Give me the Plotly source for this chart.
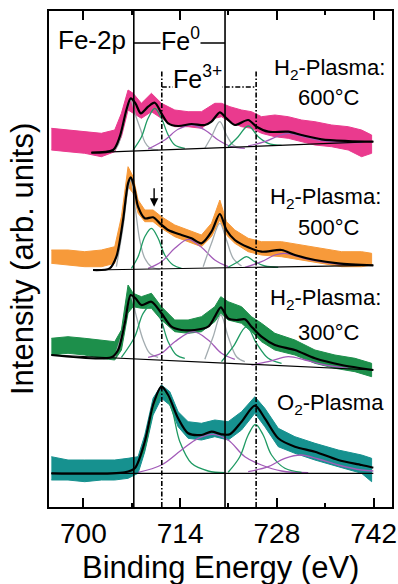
import plotly.graph_objects as go

# ---------------------------------------------------------------------------
# Fe-2p XPS spectra (binding energy in eV, intensity in arbitrary units).
# Each spectrum is stacked with its own vertical offset.
# ---------------------------------------------------------------------------

# --- H2 plasma, 600 °C ------------------------------------------------------
off_600 = 347
data_e_600 = [695.37, 697.78, 700.20, 702.61, 704.54, 705.51, 706.47, 707.20, 708.40, 709.85,
              711.30, 713.23, 715.16, 717.09, 719.02, 719.99, 721.20, 722.89, 724.33, 725.78,
              727.71, 729.65, 731.57, 733.51, 735.92, 738.33, 740.26, 741.71]
data_hi_600 = [31.7, 30, 28.3, 26.7, 30, 46.7, 70, 66.7, 56.7, 66.7, 56.7, 50, 48.3, 48.3, 56.7,
               56.7, 53.3, 50, 48.3, 43.3, 45, 43.3, 40, 38.3, 35, 33.3, 30, 25]
data_lo_600 = [10, 8.3, 6.7, 3.3, 8.3, 23.3, 50, 46.7, 41.7, 48.3, 41.7, 33.3, 33.3, 31.7, 41.7,
               43.3, 38.3, 33.3, 31.7, 26.7, 23.3, 21.7, 18.3, 15, 13.3, 10, 3.3, 6.7]
fit_e_600 = [701.16, 704.30, 705.27, 706.23, 706.86, 707.54, 708.31, 709.37, 710.34, 711.30,
             712.27, 713.71, 715.65, 717.58, 718.54, 719.75, 720.71, 721.92, 723.85, 725.06,
             726.75, 729.65, 731.57, 734.47, 738.33, 741.96]
fit_600 = [7.3, 10, 23.3, 50, 61.7, 56.7, 46.7, 53.3, 57.3, 46.7, 36.7, 34, 36, 35, 38.3, 47.7,
           41.7, 35, 40, 33.3, 28.3, 28.3, 25, 20.7, 19, 18.3]
base_e_600 = [701.16, 741.96]
base_600 = [7.3, 18.3]
peaks_600 = [
    ("metal", [704.30, 705.03, 705.60, 706.23, 706.86, 707.54, 708.31, 708.89, 709.61, 710.82],
              [8.2, 15, 30, 48, 60, 45, 30, 18, 12, 10]),
    ("oxide", [707.20, 708.40, 709.37, 710.34, 711.30, 712.27, 713.23, 714.68],
              [10, 23, 41.7, 51.7, 41.7, 25, 15, 11.7]),
    ("satellite", [709.37, 711.78, 713.71, 715.65, 717.58, 719.51, 721.44, 723.37],
                  [11, 20, 30.7, 35, 30, 20, 13.3, 11.7]),
    ("metal", [717.58, 718.54, 719.75, 720.71, 721.68, 722.64],
              [11.7, 23.3, 38.3, 25, 15, 12.3]),
    ("oxide", [720.95, 722.40, 723.85, 725.30, 726.75, 728.68],
              [13.3, 23.3, 34, 23.3, 16.7, 14.7]),
    ("satellite", [723.85, 726.26, 728.20, 729.65, 731.57, 733.99, 736.88, 740.26],
                  [14, 18.3, 24, 26.7, 24, 20, 17.7, 17.3]),
]

# --- H2 plasma, 500 °C ------------------------------------------------------
off_500 = 227
data_e_500 = [695.37, 697.78, 700.20, 702.61, 704.54, 705.51, 706.47, 707.20, 707.92, 708.89,
              710.09, 711.30, 713.23, 715.16, 717.09, 718.54, 719.75, 720.71, 721.92, 723.85,
              725.78, 728.68, 731.57, 734.47, 737.37, 740.26, 741.71]
data_hi_500 = [30, 30, 28.3, 30, 33.3, 63.3, 113.3, 103.3, 80, 70, 70, 63.3, 55, 50, 45, 56.7,
               80, 58.3, 50, 41.7, 38.3, 38.3, 35, 31.7, 28.3, 28.3, 26.7]
data_lo_500 = [16.7, 15, 13.3, 13.3, 16.7, 46.7, 93.3, 86.7, 66.7, 58.3, 58.3, 51.7, 43.3, 38.3,
               33.3, 43.3, 60, 45, 36.7, 28.3, 25, 23.3, 20, 16.7, 13.3, 13.3, 15]
fit_e_500 = [701.40, 703.82, 704.78, 705.75, 706.47, 706.86, 707.34, 707.92, 708.89, 710.09,
             711.06, 712.27, 714.20, 715.65, 717.09, 718.54, 719.75, 720.71, 721.92, 723.85,
             725.78, 728.68, 730.61, 733.51, 736.88, 741.96]
fit_500 = [10, 11.7, 23.3, 60, 96.7, 102.7, 93.3, 73.3, 61.7, 62.7, 56.7, 50, 45, 41.7, 36.7,
           48.3, 66, 50, 40, 32.7, 28.3, 30, 25, 20, 16.7, 14.7]
base_e_500 = [701.40, 741.96]
base_500 = [10, 14.7]
peaks_500 = [
    ("metal", [704.78, 705.75, 706.47, 706.86, 707.54, 708.16, 708.89, 709.85, 711.06],
              [13.3, 53.3, 91.7, 100, 70, 40, 21.7, 13.3, 10.7]),
    ("oxide", [706.96, 707.92, 708.89, 709.85, 710.82, 711.78, 712.99, 714.20],
              [11.7, 23.3, 43.3, 51.7, 41.7, 25, 15, 11.7]),
    ("satellite", [709.37, 711.30, 713.23, 715.16, 717.09, 719.02, 720.95],
                  [11.7, 18.3, 31.7, 40.7, 32.7, 20, 13.3]),
    ("metal", [717.34, 718.54, 719.75, 720.71, 721.68, 722.89],
              [13.3, 36.7, 56.7, 40, 21.7, 14]),
    ("oxide", [720.95, 722.40, 723.61, 724.82, 726.26, 728.20],
              [12.7, 18.3, 23.3, 18.3, 14, 12.7]),
    ("satellite", [723.37, 725.78, 727.71, 729.16, 731.09, 733.51, 736.88, 740.75],
                  [12.7, 18.3, 25, 26.7, 23.3, 19.3, 16, 14.7]),
]
shoulder_e_500 = 710.24
shoulder_arrow_500 = [93.3, 73.3]   # arrow tail / head

# --- H2 plasma, 300 °C ------------------------------------------------------
off_300 = 112
data_e_300 = [695.37, 697.78, 700.20, 702.61, 704.54, 705.51, 706.47, 707.20, 708.40, 709.85,
              711.30, 713.23, 715.16, 717.09, 719.02, 719.89, 720.95, 722.89, 724.33, 725.78,
              727.71, 730.61, 733.51, 736.40, 739.30, 741.71]
data_hi_300 = [56.7, 58.3, 56.7, 55, 53.3, 65, 110, 101.7, 98.3, 101.7, 88.3, 75, 75, 78.3, 88.3,
               98.3, 93.3, 88.3, 78.3, 71.7, 61.7, 55, 45, 40, 36.7, 31.7]
data_lo_300 = [40, 41.7, 40, 36.7, 35, 45, 82, 88.3, 86.7, 86.7, 75, 63.3, 61.7, 63.3, 73.3,
               81.7, 75, 71.7, 63.3, 53.3, 45, 40, 31.7, 26.7, 23.3, 18.3]
fit_e_300 = [695.37, 704.06, 705.03, 705.99, 706.86, 707.54, 708.40, 709.85, 711.30, 712.75,
             714.20, 716.12, 718.06, 719.02, 719.89, 720.95, 722.16, 723.37, 724.33, 725.78,
             727.71, 730.61, 733.51, 737.37, 741.96]
fit_300 = [40, 37.7, 45, 71.7, 100, 96.7, 90, 93.3, 81.7, 68.3, 65, 65, 68.3, 78.3, 87.7, 76.7,
           75, 75.7, 68.3, 58.3, 50, 45, 36.7, 30, 25]
base_e_300 = [695.37, 741.96]
base_300 = [40, 25]
peaks_300 = [
    ("metal", [704.54, 705.75, 706.86, 707.68, 708.65, 709.61, 710.82],
              [37.7, 65, 98.3, 78.3, 55, 41.7, 37.7]),
    ("oxide", [705.51, 707.44, 708.65, 709.85, 711.06, 712.27, 713.47, 714.68],
              [37.7, 58.3, 81.7, 90, 78.3, 53.3, 40, 36.7]),
    ("satellite", [709.37, 711.30, 713.23, 715.89, 718.06, 719.99, 721.92],
                  [37.7, 41.7, 53.3, 63.3, 55, 41.7, 35.7]),
    ("metal", [717.58, 718.78, 719.89, 720.95, 722.16, 723.37],
              [35.7, 58.3, 80, 58.3, 38.3, 33.3]),
    ("oxide", [719.99, 721.68, 723.61, 725.06, 726.75, 728.68],
              [33.3, 48.3, 68.3, 51.7, 36.7, 31.7]),
    ("satellite", [724.33, 726.75, 729.65, 732.06, 734.96, 738.33],
                  [30, 33.3, 38.3, 35, 30, 26.7]),
]

# --- O2 plasma --------------------------------------------------------------
off_o2 = 12
data_e_o2 = [695.37, 697.78, 700.20, 702.61, 704.54, 706.47, 707.92, 708.89, 710.09, 711.30,
             712.51, 713.71, 715.16, 717.09, 719.02, 720.95, 722.89, 724.82, 726.26, 728.20,
             730.61, 733.51, 736.88, 740.26, 741.71]
data_hi_o2 = [38.3, 35, 35, 35, 35, 36.7, 38.3, 60, 96.7, 110, 103.3, 83.3, 73.3, 71.7, 75,
              73.3, 83.3, 98.3, 86.7, 66.7, 58.3, 51.7, 45, 40, 36.7]
data_lo_o2 = [15, 15, 13.3, 15, 15, 16.7, 21.7, 43.3, 80, 96.7, 90, 68.3, 56.7, 55, 58.3, 55,
              65, 81.7, 68.3, 48.3, 41.7, 35, 28.3, 21.7, 13.3]
fit_e_o2 = [695.37, 705.99, 707.44, 708.89, 710.09, 711.30, 712.27, 713.71, 715.16, 717.09,
            718.54, 719.99, 721.20, 722.89, 724.82, 726.26, 728.20, 730.61, 733.51, 736.88,
            740.26, 741.96]
fit_o2 = [21.7, 22.7, 26.7, 53.3, 90, 108.3, 100, 76.7, 61.7, 60, 63.3, 60.7, 60.7, 73.3, 89.3,
          76.7, 56.7, 48.3, 43.3, 35, 30, 27.3]
base_e_o2 = [695.37, 741.96]
base_o2 = [21.7, 21.7]
peaks_o2 = [
    ("oxide", [707.20, 708.89, 710.09, 711.40, 712.75, 713.96, 715.65, 718.06, 720.47],
              [22.7, 46.7, 85, 103.3, 86.7, 53.3, 31.7, 24, 22.3]),
    ("satellite", [707.92, 711.30, 714.20, 716.61, 718.78, 720.95, 723.37, 725.78, 728.68, 732.54],
                  [22.7, 30, 45, 56.7, 60.7, 55, 38.3, 30, 24, 22.3]),
    ("oxide", [720.95, 722.64, 723.85, 724.91, 726.02, 727.23, 729.16, 731.57],
              [22.7, 38.3, 60, 70.7, 60, 40, 26.7, 22.7]),
    ("satellite", [723.85, 726.75, 729.16, 731.57, 733.99, 736.88, 740.26, 741.96],
                  [23.3, 28.3, 36.7, 40, 36, 30, 25, 24]),
]

# Reference binding energies of the 2p3/2 and 2p1/2 lines
fe0_lines = [707.3, 720.5]
fe3_lines = [711.35, 725.0]

# x-axis ticks
tick_major = [700, 714, 728, 742]
tick_minor = [707, 721, 735]

# ---------------------------------------------------------------------------
FONT = "Liberation Sans, Arial, Helvetica, sans-serif"
PEAK_COLORS = {"metal": "#a3acb0", "oxide": "#1f9a63", "satellite": "#a25bb8"}

spectra = [
    (off_600, "#ea3a8e", data_e_600, data_hi_600, data_lo_600, fit_e_600, fit_600,
     base_e_600, base_600, peaks_600),
    (off_500, "#f79a3a", data_e_500, data_hi_500, data_lo_500, fit_e_500, fit_500,
     base_e_500, base_500, peaks_500),
    (off_300, "#1d8f4b", data_e_300, data_hi_300, data_lo_300, fit_e_300, fit_300,
     base_e_300, base_300, peaks_300),
    (off_o2, "#16918f", data_e_o2, data_hi_o2, data_lo_o2, fit_e_o2, fit_o2,
     base_e_o2, base_o2, peaks_o2),
]

fig = go.Figure()

for off, color, de, dhi, dlo, fe, fv, be, bv, peaks in spectra:
    # measured data, drawn as its noise band
    fig.add_trace(go.Scatter(
        x=de + de[::-1],
        y=[v + off for v in dhi] + [v + off for v in dlo[::-1]],
        fill="toself", fillcolor=color, mode="lines",
        line=dict(color=color, width=1), hoverinfo="skip"))
    # fitted components
    for kind, pe, pv in peaks:
        fig.add_trace(go.Scatter(
            x=pe, y=[v + off for v in pv], mode="lines",
            line=dict(color=PEAK_COLORS[kind], width=1.3, shape="spline", smoothing=1.0)))
    # background
    fig.add_trace(go.Scatter(
        x=be, y=[v + off for v in bv], mode="lines",
        line=dict(color="black", width=1.2)))
    # envelope
    fig.add_trace(go.Scatter(
        x=fe, y=[v + off for v in fv], mode="lines",
        line=dict(color="black", width=2.2, shape="spline", smoothing=0.8)))

shapes = []
for e in fe0_lines:
    shapes.append(dict(type="line", xref="x", yref="paper", x0=e, x1=e, y0=0, y1=1,
                       line=dict(color="black", width=1.6), layer="above"))
for e in fe3_lines:
    shapes.append(dict(type="line", xref="x", yref="y", x0=e, x1=e, y0=0, y1=436,
                       line=dict(color="black", width=1.6, dash="5px,2px,1.5px,2px"),
                       layer="above"))
shapes.append(dict(type="line", xref="x", yref="y", x0=fe0_lines[0], x1=fe0_lines[1],
                   y0=464, y1=464, line=dict(color="black", width=1.4)))
shapes.append(dict(type="line", xref="x", yref="y", x0=fe3_lines[0], x1=fe3_lines[1],
                   y0=420, y1=420, line=dict(color="black", width=1.4,
                                             dash="5px,2px,1.5px,2px")))

annotations = [
    dict(x=701.3, y=467, text="Fe-2p", font=dict(size=26)),
    dict(x=714.0, y=468, text="Fe<sup>0</sup>", font=dict(size=25), bgcolor="white"),
    dict(x=716.5, y=430, text="Fe<sup>3+</sup>", font=dict(size=25), bgcolor="white"),
    dict(x=735.6, y=438, text="H<sub>2</sub>-Plasma:", font=dict(size=22)),
    dict(x=735.5, y=410, text="600°C", font=dict(size=22)),
    dict(x=735.1, y=309, text="H<sub>2</sub>-Plasma:", font=dict(size=22)),
    dict(x=735.6, y=280, text="500°C", font=dict(size=22)),
    dict(x=735.1, y=208, text="H<sub>2</sub>-Plasma:", font=dict(size=22)),
    dict(x=735.6, y=175, text="300°C", font=dict(size=22)),
    dict(x=735.7, y=103, text="O<sub>2</sub>-Plasma", font=dict(size=22)),
]
for a in annotations:
    a.update(xref="x", yref="y", showarrow=False, xanchor="center", yanchor="middle",
             borderpad=0)
    a["font"].update(family=FONT, color="black")

annotations.append(dict(
    xref="x", yref="y", axref="x", ayref="y",
    x=shoulder_e_500, y=off_500 + shoulder_arrow_500[1],
    ax=shoulder_e_500, ay=off_500 + shoulder_arrow_500[0],
    text="", showarrow=True, arrowhead=2, arrowsize=1.2, arrowwidth=1.4, arrowcolor="black"))

annotations.append(dict(
    xref="paper", yref="paper", x=-0.0787, y=0.5, text="Intensity (arb. units)",
    textangle=-90, showarrow=False, xanchor="center", yanchor="middle",
    font=dict(family=FONT, size=31, color="black")))
annotations.append(dict(
    xref="paper", yref="paper", x=0.5, y=-0.121, text="Binding Energy (eV)",
    showarrow=False, xanchor="center", yanchor="middle",
    font=dict(family=FONT, size=31, color="black")))

fig.update_layout(
    width=398, height=584,
    margin=dict(l=49, r=6, t=11, b=77),
    paper_bgcolor="white", plot_bgcolor="white",
    showlegend=False,
    shapes=shapes, annotations=annotations,
    xaxis=dict(range=[695.03, 744.66], showgrid=False, zeroline=False, automargin=False,
               showline=True, linecolor="black", linewidth=2, mirror="ticks",
               ticks="inside", ticklen=9, tickwidth=2, tickcolor="black",
               tickvals=tick_major, ticktext=[str(t) for t in tick_major],
               tickfont=dict(family=FONT, size=28, color="black"),
               minor=dict(tickvals=tick_minor, ticks="inside", ticklen=4,
                          tickwidth=2, tickcolor="black")),
    yaxis=dict(range=[0, 496], showgrid=False, zeroline=False, showticklabels=False,
               automargin=False,
               showline=True, linecolor="black", linewidth=2, mirror=True, ticks=""),
)

fig.write_html("out.html")
